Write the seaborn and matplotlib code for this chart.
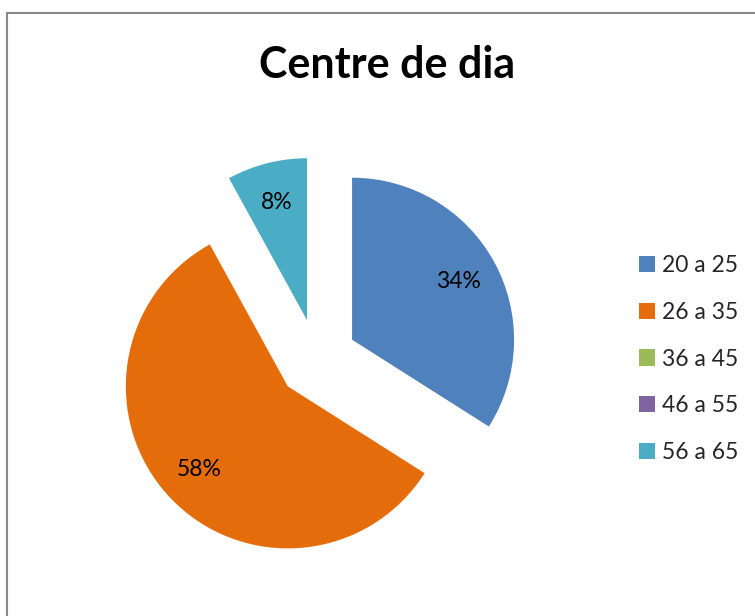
import matplotlib
matplotlib.use("Agg")
import matplotlib.pyplot as plt
import seaborn as sns
from matplotlib.patches import Rectangle

# data
categories = ["20 a 25", "26 a 35", "36 a 45", "46 a 55", "56 a 65"]
shares = [34, 58, 0, 0, 8]
colors = ["#4F81BD", "#E46C0A", "#9BBB59", "#8064A2", "#4BACC6"]
title = "Centre de dia"

sns.set_theme(style="white")
plt.rcParams["font.family"] = ["Lato", "DejaVu Sans"]

W, H = 755, 616
fig = plt.figure(figsize=(W / 100, H / 100), dpi=100)
fig.patch.set_facecolor("white")

# chart frame (cut off on right / bottom like the source)
fig.add_artist(Rectangle((7 / W, -0.1), 1.2, (H - 13) / H + 0.1,
                         transform=fig.transFigure, fill=False,
                         edgecolor="#888888", linewidth=1.5))

# pie axes: center (317, 359) px, radius 162 px
R = 162
L = 1.4
S = 2 * L * R
cx, cy = 317, 359
ax = fig.add_axes([(cx - S / 2) / W, (H - cy - S / 2) / H, S / W, S / H])

pal = sns.color_palette(colors)


def fmt(p):
    return "" if p < 0.5 else "%d%%" % round(p)


wedges, texts, autotexts = ax.pie(
    shares, colors=pal, startangle=90, counterclock=False,
    explode=[0.247] * len(shares), autopct=fmt, pctdistance=0.75,
    wedgeprops=dict(linewidth=0), textprops=dict(fontsize=16.5, color="black"))
ax.set_xlim(-L, L)
ax.set_ylim(-L, L)
ax.set_aspect("equal")
ax.axis("off")

fig.text(387.5 / W, (H - 78) / H, title, ha="center", va="baseline",
         fontsize=31, fontweight="bold", color="black")

leg = fig.legend(wedges, categories, loc="center left",
                 bbox_to_anchor=(639 / W, (H - 359) / H), frameon=False,
                 fontsize=16.5, handlelength=0.7, handleheight=0.7,
                 handletextpad=0.3, labelspacing=1.13, borderpad=0,
                 borderaxespad=0)

fig.savefig("out.png", dpi=100, facecolor="white")
